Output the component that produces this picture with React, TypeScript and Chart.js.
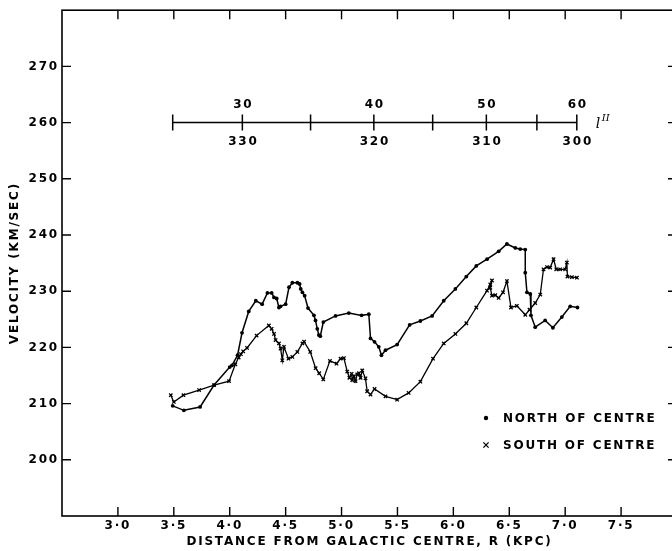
import React, { useEffect, useRef } from "react";
import { Chart, registerables } from "chart.js";

Chart.register(...registerables);

// ---- data ----
const northR = [3.49, 3.59, 3.735, 3.86, 4.0, 4.02, 4.07, 4.11, 4.17, 4.233, 4.29, 4.337, 4.375, 4.396, 4.42, 4.44, 4.455, 4.5, 4.53, 4.56, 4.605, 4.625, 4.635, 4.65, 4.67, 4.7, 4.753, 4.767, 4.783, 4.797, 4.81, 4.837, 4.946, 5.065, 5.179, 5.244, 5.259, 5.295, 5.333, 5.357, 5.393, 5.497, 5.609, 5.705, 5.81, 5.914, 6.018, 6.116, 6.205, 6.301, 6.405, 6.479, 6.554, 6.598, 6.643, 6.643, 6.658, 6.688, 6.694, 6.732, 6.821, 6.89, 6.97, 7.045, 7.11];
const northV = [209.6, 208.8, 209.4, 213.3, 216.5, 216.8, 218.6, 222.6, 226.4, 228.3, 227.7, 229.7, 229.7, 228.9, 228.7, 227.1, 227.3, 227.7, 230.7, 231.5, 231.5, 231.3, 230.4, 229.8, 229.2, 227.0, 225.7, 224.8, 223.3, 222.2, 222.0, 224.5, 225.6, 226.1, 225.7, 225.9, 221.6, 221.0, 220.1, 218.6, 219.5, 220.5, 224.0, 224.7, 225.6, 228.3, 230.4, 232.6, 234.5, 235.7, 237.1, 238.4, 237.7, 237.5, 237.4, 233.3, 229.8, 229.5, 225.7, 223.6, 224.8, 223.5, 225.4, 227.3, 227.1];

const southR = [3.473, 3.5, 3.586, 3.726, 3.86, 3.994, 4.05, 4.08, 4.1, 4.12, 4.155, 4.24, 4.35, 4.375, 4.396, 4.41, 4.44, 4.455, 4.47, 4.485, 4.525, 4.56, 4.605, 4.65, 4.665, 4.72, 4.768, 4.8, 4.837, 4.896, 4.955, 4.991, 5.021, 5.051, 5.07, 5.09, 5.096, 5.11, 5.125, 5.14, 5.155, 5.17, 5.185, 5.214, 5.229, 5.259, 5.295, 5.393, 5.497, 5.6, 5.705, 5.818, 5.914, 6.018, 6.116, 6.205, 6.301, 6.33, 6.345, 6.33, 6.345, 6.375, 6.405, 6.444, 6.479, 6.515, 6.568, 6.643, 6.681, 6.732, 6.777, 6.806, 6.837, 6.866, 6.896, 6.92, 6.955, 7.0, 7.015, 7.02, 7.06, 7.105];
const southV = [211.5, 210.3, 211.5, 212.4, 213.3, 214.0, 217.0, 218.2, 218.8, 219.3, 219.9, 222.1, 223.9, 223.3, 222.4, 221.3, 220.7, 219.8, 217.7, 220.1, 218.0, 218.3, 219.2, 220.7, 221.0, 219.2, 216.3, 215.4, 214.3, 217.6, 217.1, 218.0, 218.1, 215.7, 214.6, 215.3, 214.2, 214.9, 214.0, 215.2, 215.4, 214.6, 215.9, 214.5, 212.2, 211.6, 212.6, 211.3, 210.7, 211.9, 213.9, 218.0, 220.7, 222.4, 224.3, 227.1, 230.1, 231.2, 231.9, 230.6, 229.2, 229.3, 228.8, 229.8, 231.8, 227.1, 227.4, 225.8, 226.7, 227.9, 229.4, 233.9, 234.3, 234.2, 235.7, 233.9, 233.9, 233.9, 235.1, 232.6, 232.5, 232.4];

const xTicks = [3.0, 3.5, 4.0, 4.5, 5.0, 5.5, 6.0, 6.5, 7.0, 7.5];
const xTickLabels = ["3·0", "3·5", "4·0", "4·5", "5·0", "5·5", "6·0", "6·5", "7·0", "7·5"];
const yTicks = [200, 210, 220, 230, 240, 250, 260, 270];
const yTickLabels = ["200", "210", "220", "230", "240", "250", "260", "270"];

// galactic longitude scale drawn at velocity 260
const lonScaleV = 260;
const lonTickR = [3.49, 4.113, 4.723, 5.289, 5.815, 6.295, 6.747, 7.104];
const lonTopLabels = ["", "30", "", "40", "", "50", "", "60"];
const lonBottomLabels = ["", "330", "", "320", "", "310", "", "300"];

const seriesNames = ["NORTH OF CENTRE", "SOUTH OF CENTRE"];
const xTitle = "DISTANCE FROM GALACTIC CENTRE, R (KPC)";
const yTitle = "VELOCITY (KM/SEC)";

const FONT_FAMILY = "'DejaVu Sans', sans-serif";
const SPACING = "1.8px";

const drawCross = (ctx: CanvasRenderingContext2D, x: number, y: number, r: number) => {
  ctx.beginPath();
  ctx.moveTo(x - r, y - r);
  ctx.lineTo(x + r, y + r);
  ctx.moveTo(x + r, y - r);
  ctx.lineTo(x - r, y + r);
  ctx.stroke();
};

const decorPlugin = {
  id: "decor",
  beforeLayout(chart: any) {
    (chart.ctx as any).letterSpacing = SPACING;
  },
  beforeDraw(chart: any) {
    (chart.ctx as any).letterSpacing = SPACING;
  },
  afterDraw(chart: any) {
    const ctx: CanvasRenderingContext2D = chart.ctx;
    const { left, right, top, bottom } = chart.chartArea;
    const xs = chart.scales.x;
    const ys = chart.scales.y;
    ctx.save();
    (ctx as any).letterSpacing = SPACING;
    ctx.strokeStyle = "#000";
    ctx.fillStyle = "#000";
    // frame
    ctx.lineWidth = 1.6;
    ctx.strokeRect(left, top, right - left, bottom - top);
    // inward ticks
    const tl = 9;
    ctx.lineWidth = 1.4;
    ctx.beginPath();
    xTicks.forEach((v) => {
      const px = xs.getPixelForValue(v);
      ctx.moveTo(px, bottom);
      ctx.lineTo(px, bottom - tl);
      ctx.moveTo(px, top);
      ctx.lineTo(px, top + tl);
    });
    yTicks.forEach((v) => {
      const py = ys.getPixelForValue(v);
      ctx.moveTo(left, py);
      ctx.lineTo(left + tl, py);
      ctx.moveTo(right, py);
      ctx.lineTo(right - tl, py);
    });
    ctx.stroke();

    // longitude scale
    const ly = ys.getPixelForValue(lonScaleV);
    const x0 = xs.getPixelForValue(lonTickR[0]);
    const x1 = xs.getPixelForValue(lonTickR[lonTickR.length - 1]);
    ctx.lineWidth = 1.5;
    ctx.beginPath();
    ctx.moveTo(x0, ly);
    ctx.lineTo(x1, ly);
    lonTickR.forEach((r) => {
      const px = xs.getPixelForValue(r);
      ctx.moveTo(px, ly - 8);
      ctx.lineTo(px, ly + 8);
    });
    ctx.stroke();
    ctx.font = `bold 12px ${FONT_FAMILY}`;
    ctx.textAlign = "center";
    ctx.textBaseline = "middle";
    lonTickR.forEach((r, i) => {
      const px = xs.getPixelForValue(r) + 1;
      if (lonTopLabels[i]) ctx.fillText(lonTopLabels[i], px, ly - 18);
      if (lonBottomLabels[i]) ctx.fillText(lonBottomLabels[i], px, ly + 19);
    });
    // l^II label
    (ctx as any).letterSpacing = "0px";
    ctx.textAlign = "left";
    ctx.font = `italic 14px 'DejaVu Serif', serif`;
    ctx.fillText("l", x1 + 19, ly + 2);
    ctx.font = `italic 10px 'DejaVu Serif', serif`;
    ctx.fillText("II", x1 + 25, ly - 4);

    // legend inside plot
    (ctx as any).letterSpacing = SPACING;
    ctx.font = `bold 12px ${FONT_FAMILY}`;
    const lx = 486;
    const rows = [418, 445];
    ctx.beginPath();
    ctx.arc(lx, rows[0], 2.2, 0, Math.PI * 2);
    ctx.fill();
    ctx.lineWidth = 1.3;
    drawCross(ctx, lx, rows[1], 2.6);
    ctx.textAlign = "left";
    ctx.textBaseline = "middle";
    ctx.fillText(seriesNames[0], 503, rows[0] + 1);
    ctx.fillText(seriesNames[1], 503, rows[1] + 1);
    ctx.restore();
  },
};

export default function App() {
  const ref = useRef<HTMLCanvasElement | null>(null);

  useEffect(() => {
    if (!ref.current) return;
    const font = { family: FONT_FAMILY, size: 12, weight: "bold" as const };
    const chart = new Chart(ref.current, {
      type: "scatter",
      data: {
        datasets: [
          {
            label: seriesNames[0],
            data: northR.map((r, i) => ({ x: r, y: northV[i] })),
            showLine: true,
            borderColor: "#000",
            backgroundColor: "#000",
            borderWidth: 1.5,
            pointStyle: "circle",
            pointRadius: 1.9,
            pointBorderWidth: 0,
            pointBackgroundColor: "#000",
          },
          {
            label: seriesNames[1],
            data: southR.map((r, i) => ({ x: r, y: southV[i] })),
            showLine: true,
            borderColor: "#000",
            backgroundColor: "#000",
            borderWidth: 1.3,
            pointStyle: "crossRot",
            pointRadius: 2.4,
            pointBorderWidth: 1.3,
            pointBorderColor: "#000",
          },
        ],
      },
      options: {
        responsive: false,
        animation: false,
        devicePixelRatio: 1,
        layout: { padding: { top: 6, right: 13, left: 0, bottom: 0 } },
        plugins: { legend: { display: false }, tooltip: { enabled: false } },
        scales: {
          x: {
            type: "linear",
            min: 2.5,
            max: 8.0,
            afterBuildTicks: (s: any) => {
              s.ticks = xTicks.map((v) => ({ value: v }));
            },
            afterFit: (s: any) => {
              s.height = 35;
            },
            grid: { display: false, drawTicks: false },
            border: { display: false },
            ticks: {
              color: "#000",
              font,
              padding: 3,
              maxRotation: 0,
              autoSkip: false,
              callback: (v: any) => {
                const i = xTicks.findIndex((t) => Math.abs(t - Number(v)) < 1e-6);
                return i >= 0 ? xTickLabels[i] : "";
              },
            },
            title: {
              display: true,
              text: xTitle,
              color: "#000",
              font,
              padding: { top: 0, bottom: 2 },
            },
          },
          y: {
            type: "linear",
            min: 190,
            max: 280,
            afterBuildTicks: (s: any) => {
              s.ticks = yTicks.map((v) => ({ value: v }));
            },
            afterFit: (s: any) => {
              s.width = 62;
            },
            grid: { display: false, drawTicks: false },
            border: { display: false },
            ticks: {
              color: "#000",
              font,
              padding: 3,
              autoSkip: false,
              callback: (v: any) => {
                const i = yTicks.findIndex((t) => Math.abs(t - Number(v)) < 1e-6);
                return i >= 0 ? yTickLabels[i] : "";
              },
            },
            title: {
              display: true,
              text: yTitle,
              color: "#000",
              font,
              padding: { top: 8, bottom: 0 },
            },
          },
        },
      },
      plugins: [decorPlugin],
    });
    return () => chart.destroy();
  }, []);

  return (
    <div
      style={{
        position: "absolute",
        left: 0,
        top: 0,
        width: 672,
        height: 551,
        overflow: "hidden",
        background: "#fff",
      }}
    >
      <canvas ref={ref} width={690} height={551} style={{ display: "block" }} />
    </div>
  );
}
